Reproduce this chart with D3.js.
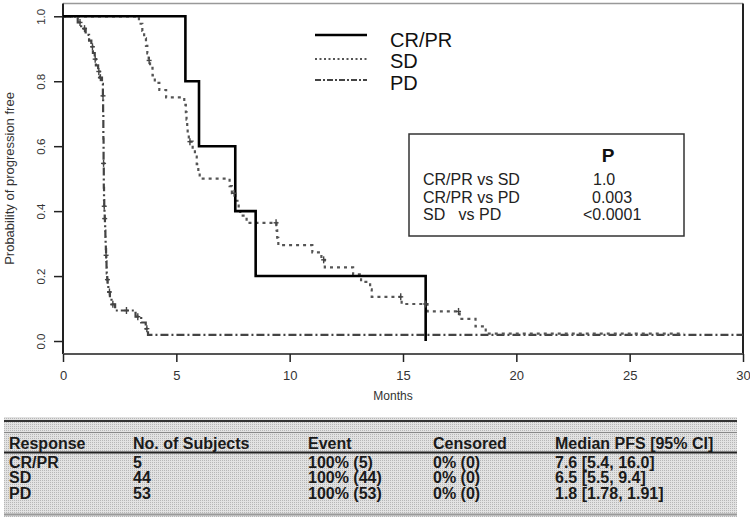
<!DOCTYPE html>
<html>
<head>
<meta charset="utf-8">
<script src="https://cdn.jsdelivr.net/npm/d3@7"></script>
<style>
  html, body { margin: 0; padding: 0; background: #fff; }
  svg { display: block; font-family: "Liberation Sans", Arial, Helvetica, sans-serif; }
</style>
</head>
<body>
<svg id="chart" width="750" height="520"></svg>
<script>
// ---------------- DATA ----------------
const seriesNames = ["CR/PR", "SD", "PD"];

// CR/PR (n=5)
const crprTimes = [0, 5.4, 6.0, 7.6, 8.5, 16.0];
const crprSurv  = [1.0, 0.8, 0.6, 0.4, 0.2, 0.0];

// SD (n=44)
const sdTimes = [0, 3.35, 3.5, 3.58, 3.66, 3.72, 3.78, 3.84, 3.95, 4.05, 4.25, 4.55,
  5.35, 5.42, 5.45, 5.48, 5.5, 5.55, 5.72, 5.82, 5.9, 5.97, 6.03, 7.35, 7.45, 7.6,
  7.75, 7.82, 8.1, 9.42, 9.45, 9.5, 11.0, 11.4, 11.55, 12.8, 13.15, 13.55, 13.62,
  14.94, 16.08, 17.5, 18.2, 18.65, 27.4];
const sdSurv = [1.000, 0.977, 0.955, 0.932, 0.909, 0.886, 0.864, 0.841, 0.818, 0.795,
  0.773, 0.750, 0.727, 0.705, 0.682, 0.659, 0.636, 0.614, 0.591, 0.568, 0.545, 0.523,
  0.500, 0.477, 0.455, 0.432, 0.409, 0.386, 0.364, 0.341, 0.318, 0.295, 0.273, 0.250,
  0.227, 0.205, 0.182, 0.159, 0.136, 0.114, 0.091, 0.068, 0.045, 0.023, 0.023];

// PD (n=53)
const pdTimes = [0, 0.65, 0.8, 1.0, 1.15, 1.25, 1.32, 1.4, 1.45, 1.55, 1.62, 1.72,
  1.76, 1.76, 1.77, 1.77, 1.77, 1.78, 1.78, 1.78, 1.78, 1.79, 1.79, 1.79, 1.79,
  1.80, 1.80, 1.80, 1.80, 1.81, 1.81, 1.82, 1.83, 1.84, 1.85, 1.86, 1.87, 1.88,
  1.89, 1.90, 1.91, 1.92, 1.93, 1.95, 1.97, 2.0, 2.07, 2.14, 2.3, 3.2, 3.45, 3.65, 3.75, 30];
const pdSurv = [1.000, 0.981, 0.962, 0.943, 0.925, 0.906, 0.887, 0.868, 0.849, 0.830,
  0.811, 0.792, 0.774, 0.755, 0.736, 0.717, 0.698, 0.679, 0.660, 0.642, 0.623, 0.604,
  0.585, 0.566, 0.547, 0.528, 0.509, 0.491, 0.472, 0.453, 0.434, 0.415, 0.396, 0.377,
  0.358, 0.340, 0.321, 0.302, 0.283, 0.264, 0.245, 0.226, 0.208, 0.189, 0.170, 0.151,
  0.132, 0.113, 0.094, 0.075, 0.057, 0.038, 0.019, 0.019];

// tick marks on curves
const sdMarkTimes = [3.8, 5.6, 7.55, 9.4, 11.5, 14.9, 16.0, 17.45];
const pdMarkTimes = [0.75, 0.95, 1.3, 1.42, 1.58, 1.65, 1.765, 1.79, 1.82, 1.84, 1.9, 1.96, 2.05, 2.2, 2.8, 3.3, 3.7];

const xTicks = [0, 5, 10, 15, 20, 25, 30];
const yTicks = [0, 0.2, 0.4, 0.6, 0.8, 1.0];

const pHeader = "P";
const pLabels = ["CR/PR vs SD", "CR/PR vs PD", "SD   vs PD"];
const pValues = ["1.0", "0.003", "<0.0001"];

const tableHeaders = ["Response", "No. of Subjects", "Event", "Censored", "Median PFS [95% CI]"];
const tableResponse = ["CR/PR", "SD", "PD"];
const tableSubjects = ["5", "44", "53"];
const tableEvent = ["100% (5)", "100% (44)", "100% (53)"];
const tableCensored = ["0% (0)", "0% (0)", "0% (0)"];
const tableMedian = ["7.6 [5.4, 16.0]", "6.5 [5.5, 9.4]", "1.8 [1.78, 1.91]"];

// ---------------- DRAW ----------------
const svg = d3.select("#chart");
const x = d3.scaleLinear().domain([0, 30]).range([63, 743]);
const y = d3.scaleLinear().domain([-0.04, 1.04]).range([354, 3.3]);

// box
svg.append("line").attr("x1", 63).attr("x2", 743).attr("y1", 3.5).attr("y2", 3.5)
  .attr("stroke", "#999").attr("stroke-width", 1.5);
svg.append("line").attr("x1", 743).attr("x2", 743).attr("y1", 3.5).attr("y2", 354)
  .attr("stroke", "#222").attr("stroke-width", 2);
svg.append("line").attr("x1", 63).attr("x2", 63).attr("y1", 3.5).attr("y2", 354)
  .attr("stroke", "#222").attr("stroke-width", 2);
svg.append("line").attr("x1", 63).attr("x2", 743).attr("y1", 354).attr("y2", 354)
  .attr("stroke", "#555").attr("stroke-width", 2);

// axes
const yAxis = svg.append("g").attr("transform", "translate(63,0)")
  .call(d3.axisLeft(y).tickValues(yTicks).tickFormat(d3.format(".1f")).tickSize(9));
yAxis.select(".domain").remove();
yAxis.selectAll(".tick line").attr("stroke", "#222").attr("stroke-width", 1.5);
yAxis.selectAll(".tick text")
  .attr("transform", "rotate(-90)").attr("x", 0).attr("y", -18).attr("dy", 0)
  .attr("text-anchor", "middle").attr("font-size", 11.5).attr("fill", "#333")
  .attr("font-family", "Liberation Sans, Arial, sans-serif");

const xAxis = svg.append("g").attr("transform", "translate(0,354)")
  .call(d3.axisBottom(x).tickValues(xTicks).tickFormat(d3.format("d")).tickSize(8));
xAxis.select(".domain").remove();
xAxis.selectAll(".tick line").attr("stroke", "#222").attr("stroke-width", 1.5);
xAxis.selectAll(".tick text").attr("y", 26).attr("dy", 0)
  .attr("font-size", 13).attr("fill", "#333")
  .attr("font-family", "Liberation Sans, Arial, sans-serif");

svg.append("text").attr("x", 393).attr("y", 400).attr("text-anchor", "middle")
  .attr("font-size", 12).attr("fill", "#333").text("Months");
svg.append("text").attr("transform", "translate(14,178.5) rotate(-90)")
  .attr("text-anchor", "middle").attr("font-size", 13).attr("fill", "#333")
  .text("Probability of progression free");

// curves
const line = d3.line().x(d => x(d[0])).y(d => y(d[1])).curve(d3.curveStepAfter);
const styles = [
  { stroke: "#000", width: 2.6, dash: null },
  { stroke: "#555", width: 2.2, dash: "3,4" },
  { stroke: "#444", width: 2.2, dash: "8,3,2,3" }
];
const curves = [
  d3.zip(crprTimes, crprSurv),
  d3.zip(sdTimes, sdSurv),
  d3.zip(pdTimes, pdSurv)
];
// draw PD and SD first, CR/PR on top
[2, 1, 0].forEach(i => {
  svg.append("path").datum(curves[i]).attr("d", line)
    .attr("fill", "none").attr("stroke", styles[i].stroke)
    .attr("stroke-width", styles[i].width)
    .attr("stroke-dasharray", styles[i].dash);
});

function survAt(times, surv, t) {
  const i = d3.bisectRight(times, t) - 1;
  return surv[Math.max(0, i)];
}
function marks(times, surv, mt) {
  const g = svg.append("g").attr("stroke", "#444").attr("stroke-width", 1.4);
  mt.forEach(t => {
    const cx = x(t), cy = y(survAt(times, surv, t));
    g.append("line").attr("x1", cx).attr("x2", cx).attr("y1", cy - 3.5).attr("y2", cy + 3.5);
    g.append("line").attr("x1", cx - 2.5).attr("x2", cx + 2.5).attr("y1", cy).attr("y2", cy);
  });
}
marks(sdTimes, sdSurv, sdMarkTimes);
marks(pdTimes, pdSurv, pdMarkTimes);

// legend
const legY = [35, 59, 80];
const legTextY = [46.5, 68, 90];
const legStyles = [
  { stroke: "#000", width: 2.6, dash: null },
  { stroke: "#555", width: 1.8, dash: "2,2.5" },
  { stroke: "#444", width: 2, dash: "6,2,2,2" }
];
seriesNames.forEach((name, i) => {
  svg.append("line").attr("x1", 315).attr("x2", 367).attr("y1", legY[i]).attr("y2", legY[i])
    .attr("stroke", legStyles[i].stroke).attr("stroke-width", legStyles[i].width)
    .attr("stroke-dasharray", legStyles[i].dash);
  svg.append("text").attr("x", 390).attr("y", legTextY[i]).attr("font-size", 20)
    .attr("fill", "#111").text(name);
});

// p-value box
svg.append("rect").attr("x", 409).attr("y", 134).attr("width", 275).attr("height", 102)
  .attr("fill", "#fff").attr("stroke", "#333").attr("stroke-width", 1.5);
svg.append("text").attr("x", 608).attr("y", 161.5).attr("text-anchor", "middle")
  .attr("font-size", 19).attr("font-weight", "bold").attr("fill", "#111").text(pHeader);
const pRowY = [184.5, 202.5, 219.5];
const pValX = [593, 592, 583];
pLabels.forEach((lab, i) => {
  svg.append("text").attr("x", 423).attr("y", pRowY[i]).attr("font-size", 16)
    .attr("fill", "#222").attr("xml:space", "preserve").style("white-space", "pre").text(lab);
  svg.append("text").attr("x", pValX[i]).attr("y", pRowY[i]).attr("font-size", 16)
    .attr("fill", "#222").text(pValues[i]);
});

// table
const defs = svg.append("defs");
const pat = defs.append("pattern").attr("id", "dots").attr("patternUnits", "userSpaceOnUse")
  .attr("width", 2).attr("height", 2);
pat.append("rect").attr("width", 2).attr("height", 2).attr("fill", "#e2e2e2");
pat.append("rect").attr("width", 1).attr("height", 1).attr("fill", "#b6b6b6");

svg.append("rect").attr("x", 4).attr("y", 417).attr("width", 733).attr("height", 100)
  .attr("fill", "url(#dots)");
svg.append("line").attr("x1", 4).attr("x2", 737).attr("y1", 421).attr("y2", 421)
  .attr("stroke", "#333").attr("stroke-width", 2);
svg.append("line").attr("x1", 4).attr("x2", 737).attr("y1", 432.5).attr("y2", 432.5)
  .attr("stroke", "#888").attr("stroke-width", 1);
svg.append("line").attr("x1", 4).attr("x2", 737).attr("y1", 452.5).attr("y2", 452.5)
  .attr("stroke", "#222").attr("stroke-width", 2);
svg.append("line").attr("x1", 4).attr("x2", 737).attr("y1", 514.5).attr("y2", 514.5)
  .attr("stroke", "#999").attr("stroke-width", 2);

const colX = [9, 133, 308, 433, 555];
tableHeaders.forEach((h, j) => {
  svg.append("text").attr("x", colX[j]).attr("y", 449).attr("font-size", 16)
    .attr("font-weight", "bold").attr("fill", "#1a1a1a").text(h);
});
const rowY = [467.5, 483, 499];
const cols = [tableResponse, tableSubjects, tableEvent, tableCensored, tableMedian];
tableResponse.forEach((r, i) => {
  cols.forEach((col, j) => {
    svg.append("text").attr("x", colX[j]).attr("y", rowY[i]).attr("font-size", 16)
      .attr("font-weight", "bold").attr("fill", "#1a1a1a").text(col[i]);
  });
});
</script>
</body>
</html>
